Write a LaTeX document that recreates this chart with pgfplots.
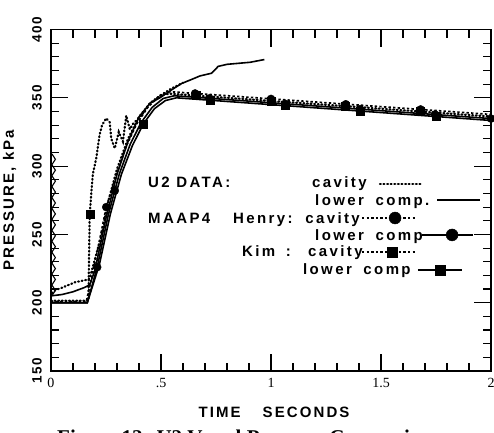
\documentclass[border=0pt]{standalone}
\usepackage{pgfplots}
\pgfplotsset{compat=1.18}
\usepackage{fontspec}
\setmainfont{Liberation Serif}
\newfontfamily\labfont[LetterSpace=14]{Liberation Sans}
\newfontfamily\legfont[LetterSpace=16]{Liberation Sans}
\newfontfamily\tickfont[LetterSpace=10]{Liberation Sans}
\tikzset{
 dotl/.style={line width=2.2pt, line cap=round, dash pattern=on 0.9pt off 2.7pt},
 dashl/.style={line width=1.7pt, dash pattern=on 2.4pt off 2.2pt},
 solidl/.style={line width=1.6pt},
 circm/.style={only marks, mark=*, mark size=4pt},
 sqm/.style={only marks, mark=square*, mark size=4pt},
}
\begin{document}
\begin{tikzpicture}
\begin{axis}[name=ax, x=220pt, y=1.366pt, xmin=0, xmax=2, ymin=150, ymax=400,
 axis line style={line width=1.8pt},
 tick align=inside,
 xtick={0,0.5,1,1.5,2}, xticklabels={0,.5,1,1.5,2},
 ytick={150,200,250,300,350,400}, yticklabels={150,200,250,300,350,400},
 minor x tick num=4, minor y tick num=4,
 major tick length=17pt, minor tick length=8pt,
 every tick/.style={line width=1.1pt, black},
 xticklabel style={font=\fontsize{14}{14}\selectfont, inner sep=0pt, yshift=-7pt},
 yticklabel style={xshift=-9pt, rotate=90, anchor=south, inner sep=0pt, font=\tickfont\bfseries\fontsize{13.5}{14}\selectfont},
 clip=false, /pgf/number format/assume math mode=true,
]
% U2 data cavity: noise at start
\addplot[black, line width=1.1pt] coordinates {(0.004,205)(0.02,209)(0.004,213)(0.02,217)(0.004,221)(0.02,225)(0.004,229)(0.02,233)(0.004,237)(0.02,241)(0.004,245)(0.02,249)(0.004,253)(0.02,257)(0.004,261)(0.02,265)(0.004,269)(0.02,273)(0.004,277)(0.02,281)(0.004,285)(0.02,289)(0.004,293)(0.02,297)(0.004,301)(0.02,305)(0.004,309)};
% U2 data cavity
\addplot[black, dotl] coordinates {(0.005,207)(0.017,209)(0.05,211)(0.08,213)(0.11,215)(0.14,216)(0.17,217)(0.176,218)(0.2,232)(0.23,250)(0.26,274)(0.3,298)(0.35,320)(0.4,336)(0.45,346)(0.5,352)(0.55,357)(0.6,361)};
% U2 data lower comp
\addplot[black, solidl] coordinates {(0,205)(0.05,206)(0.1,208)(0.15,211)(0.176,213)(0.2,224)(0.25,262)(0.3,294)(0.35,318)(0.4,336)(0.45,346)(0.495,350)(0.55,356)(0.594,360.5)(0.64,363.5)(0.677,366)(0.73,368)(0.76,373)(0.8,374.5)(0.905,376)(0.97,378)};
% Kim cavity
\addplot[black, dotl] coordinates {(0,201.5)(0.17,201.5)(0.176,265)(0.19,294)(0.206,306)(0.221,323)(0.232,330)(0.251,335)(0.267,332)(0.274,320)(0.29,313)(0.308,325)(0.327,318)(0.342,337)(0.358,327)(0.373,331)(0.41,337)(0.45,346)(0.5,352)(0.54,353)(2,336.3)};
\addplot[black, sqm] coordinates {(0.176,265)(0.66,351.6)(1.0,347.7)(1.336,343.9)(1.677,340.0)};
% Henry cavity
\addplot[black, dashl] coordinates {(0,200.5)(0.16,200.5)(0.19,222)(0.22,245)(0.251,270)(0.29,290)(0.34,314)(0.39,331)(0.44,343)(0.49,351)(0.54,354.5)(2,337.8)};
\addplot[black, circm] coordinates {(0.251,270)(0.655,353.2)(1.0,349.2)(1.34,345.3)(1.68,341.5)};
% Henry lower comp
\addplot[black, solidl] coordinates {(0,200)(0.165,200)(0.21,226)(0.26,264)(0.31,294)(0.36,316)(0.41,332)(0.46,343)(0.51,349.5)(0.56,351.5)(2,334.8)};
\addplot[black, circm] coordinates {(0.21,226)(0.29,282)(0.72,349.6)(1.065,345.6)(1.405,341.7)(1.745,337.8)(2.0,334.8)};
% Kim lower comp
\addplot[black, solidl] coordinates {(0,200)(0.165,200)(0.22,228)(0.27,265)(0.32,294)(0.37,315)(0.42,331)(0.47,342)(0.52,348)(0.57,350)(2,333.4)};
\addplot[black, sqm] coordinates {(0.42,331)(0.725,348.2)(1.064,344.3)(1.405,340.3)(1.75,336.3)};
% legend samples
\addplot[black, dotl] coordinates {(1.495,286.9)(1.691,286.9)};
\addplot[black, line width=1.8pt] coordinates {(1.755,275.2)(1.95,275.2)};
\addplot[black, dashl] coordinates {(1.414,262.0)(1.664,262.0)};
\addplot[black, only marks, mark=*, mark size=6pt] coordinates {(1.564,262.0)};
\addplot[black, line width=1.8pt] coordinates {(1.686,249.6)(1.918,249.6)};
\addplot[black, only marks, mark=*, mark size=6pt] coordinates {(1.823,249.6)};
\addplot[black, dashl] coordinates {(1.414,237.1)(1.664,237.1)};
\addplot[black, only marks, mark=square*, mark size=5pt] coordinates {(1.55,237.1)};
\addplot[black, line width=1.8pt] coordinates {(1.668,223.9)(1.868,223.9)};
\addplot[black, only marks, mark=square*, mark size=5pt] coordinates {(1.768,223.9)};
% legend text
\begin{scope}[every node/.style={anchor=base west, inner sep=0pt, font=\legfont\bfseries\fontsize{15}{15}\selectfont}]
\node at (axis cs:0.441,284.7) {U2 DATA:};
\node at (axis cs:1.186,284.7) {cavity};
\node at (axis cs:1.2,271.5) {lower\hspace{5pt} comp.};
\node at (axis cs:0.441,258.3) {MAAP4};
\node at (axis cs:0.827,258.3) {Henry:};
\node at (axis cs:1.155,258.3) {cavity};
\node at (axis cs:1.2,245.9) {lower\hspace{5pt} comp};
\node at (axis cs:0.868,233.5) {Kim\hspace{4pt} :};
\node at (axis cs:1.168,233.5) {cavity};
\node at (axis cs:1.145,220.3) {lower\hspace{5pt} comp};
\end{scope}
% axis labels
\node[anchor=base, inner sep=0pt, xshift=3pt, yshift=-46pt, font=\labfont\bfseries\fontsize{15}{15}\selectfont] at (rel axis cs:0.5,0) {TIME\hspace{22pt}SECONDS};
\node[xshift=-37pt, rotate=90, anchor=base, inner sep=0pt, font=\labfont\bfseries\fontsize{15}{15}\selectfont] at (rel axis cs:0,0.5) {PRESSURE,\hspace{6pt}kPa};
\end{axis}
\node[anchor=base west, inner sep=0pt, font=\bfseries\fontsize{21}{21}\selectfont] at ([xshift=6pt,yshift=-73pt]ax.south west) {Figure 12: U2 Vessel Pressure Comparison};
\pgfresetboundingbox
\path[use as bounding box] ([xshift=-51pt,yshift=-61pt]ax.south west) rectangle ([xshift=3pt,yshift=29.5pt]ax.north east);
\end{tikzpicture}
\end{document}
